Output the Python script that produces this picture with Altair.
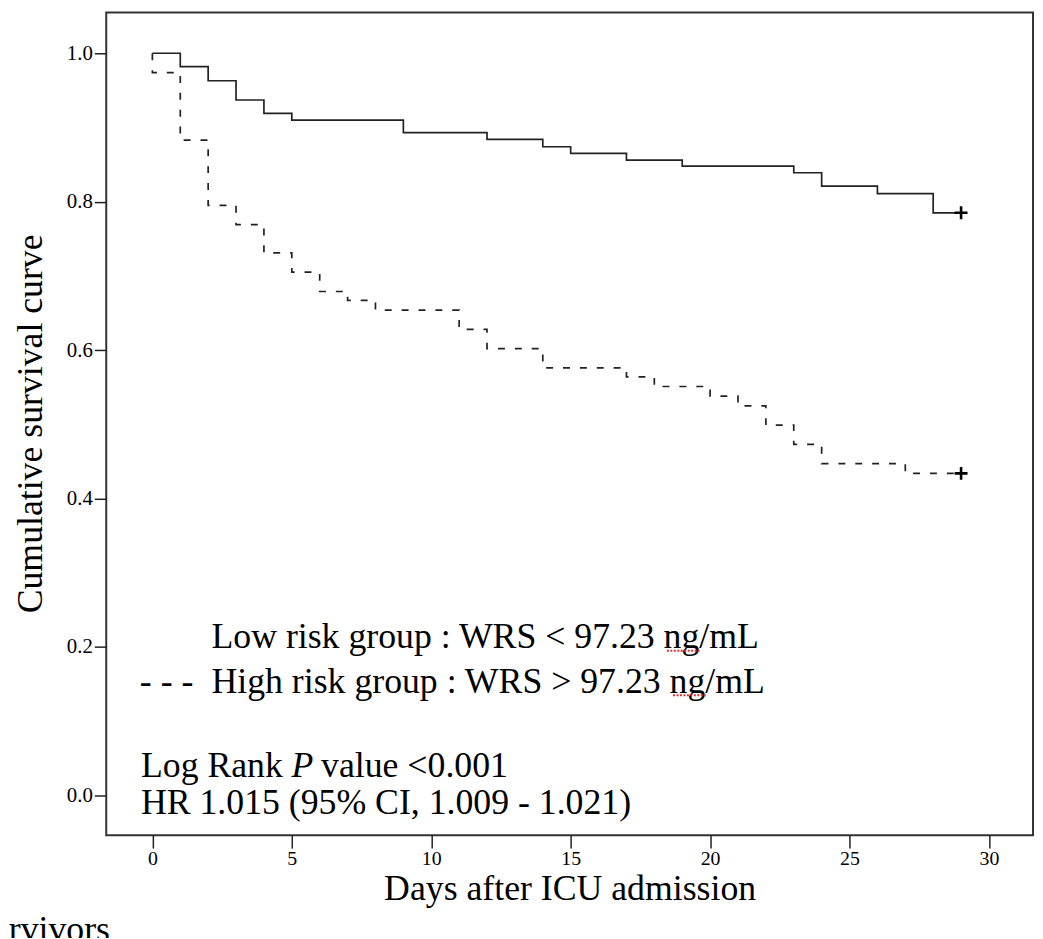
import altair as alt
import pandas as pd

# ---- data ----
low_days = [0, 1, 2, 3, 4, 5, 9, 12, 14, 15, 17, 19, 23, 24, 26, 28, 29]
low_surv = [1.0, 0.982, 0.963, 0.937, 0.919, 0.910, 0.893, 0.884, 0.874, 0.865,
            0.856, 0.848, 0.839, 0.821, 0.811, 0.785, 0.785]

high_days = [0, 0, 1, 2, 3, 4, 5, 6, 7, 8, 11, 12, 14, 17, 18, 20, 21, 22, 23, 24, 27, 29]
high_surv = [1.0, 0.974, 0.883, 0.795, 0.769, 0.731, 0.705, 0.679, 0.667, 0.654, 0.628,
             0.602, 0.576, 0.564, 0.551, 0.538, 0.525, 0.499, 0.473, 0.447, 0.434, 0.434]

censor_days = [29, 29]
censor_surv = [0.785, 0.434]

x_ticks = [0, 5, 10, 15, 20, 25, 30]
y_ticks = [0.0, 0.2, 0.4, 0.6, 0.8, 1.0]

# annotation texts (text, day, survival value)
ann_text = ["Low risk group : WRS < 97.23 ng/mL",
            "- - -",
            "High risk group : WRS > 97.23 ng/mL",
            "Log Rank",
            "value <0.001",
            "HR 1.015 (95% CI, 1.009 - 1.021)"]
ann_day = [2.12, -0.45, 2.12, -0.41, 6.05, -0.41]
ann_val = [0.214, 0.153, 0.153, 0.040, 0.040, -0.010]

italic_text = ["P"]
italic_day = [4.99]
italic_val = [0.040]

cut_text = ["rvivors"]
cut_day = [-5.15]
cut_val = [-0.1965]

# spell-check underline spans under "ng" (day start, day end, value)
sq_day = [18.45, 18.67]
sq_day2 = [19.62, 19.84]
sq_val = [0.195, 0.135]

FONT = "Liberation Serif"
XDOM = [-1.655, 31.58]
YDOM = [-0.0535, 1.0548]

low_df = pd.DataFrame({"day": low_days, "surv": low_surv, "ord": range(len(low_days))})
high_df = pd.DataFrame({"day": high_days, "surv": high_surv, "ord": range(len(high_days))})
cens_df = pd.DataFrame({"day": censor_days, "surv": censor_surv})
ann_df = pd.DataFrame({"t": ann_text, "day": ann_day, "surv": ann_val})
ital_df = pd.DataFrame({"t": italic_text, "day": italic_day, "surv": italic_val})
cut_df = pd.DataFrame({"t": cut_text, "day": cut_day, "surv": cut_val})
sq_df = pd.DataFrame({"d1": sq_day, "d2": sq_day2, "surv": sq_val})

xscale = alt.Scale(domain=XDOM, nice=False, zero=False)
yscale = alt.Scale(domain=YDOM, nice=False, zero=False)

x_axis = alt.Axis(values=x_ticks, format="d", tickSize=13, tickColor="#222", tickWidth=1.5,
                  domain=False, grid=False, labelFont=FONT, labelFontSize=20,
                  labelColor="#000", labelPadding=1, title="Days after ICU admission",
                  titleFont=FONT, titleFontSize=36, titleFontWeight="normal",
                  titleColor="#000", titleY=65, titleBaseline="alphabetic")
y_axis = alt.Axis(values=y_ticks, format=".1f", tickSize=12, tickColor="#222", tickWidth=1.5,
                  domain=False, grid=False, labelFont=FONT, labelFontSize=21,
                  labelColor="#000", labelPadding=2, title="Cumulative survival curve",
                  titleFont=FONT, titleFontSize=36, titleFontWeight="normal",
                  titleColor="#000", titleX=-65, titleY=414, titleBaseline="alphabetic",
                  titleAngle=270)

low_line = alt.Chart(low_df).mark_line(interpolate="step-after", color="#222",
                                       strokeWidth=1.7).encode(
    x=alt.X("day:Q", scale=xscale, axis=x_axis),
    y=alt.Y("surv:Q", scale=yscale, axis=y_axis),
    order="ord:Q")

high_line = alt.Chart(high_df).mark_line(interpolate="step-after", color="#222",
                                         strokeWidth=1.7, strokeDash=[7, 10]).encode(
    x=alt.X("day:Q", scale=xscale),
    y=alt.Y("surv:Q", scale=yscale),
    order="ord:Q")

cens = alt.Chart(cens_df).mark_point(shape="M-1,0L1,0M0,-1L0,1", size=170, strokeWidth=2.6,
                                     color="#000", filled=False, opacity=1).encode(
    x=alt.X("day:Q", scale=xscale),
    y=alt.Y("surv:Q", scale=yscale))

ann = alt.Chart(ann_df).mark_text(align="left", baseline="middle", font=FONT, fontSize=36,
                                  color="#000").encode(
    x=alt.X("day:Q", scale=xscale),
    y=alt.Y("surv:Q", scale=yscale),
    text="t:N")

ital = alt.Chart(ital_df).mark_text(align="left", baseline="middle", font=FONT, fontSize=36,
                                    fontStyle="italic", color="#000").encode(
    x=alt.X("day:Q", scale=xscale),
    y=alt.Y("surv:Q", scale=yscale),
    text="t:N")

cut = alt.Chart(cut_df).mark_text(align="left", baseline="alphabetic", font=FONT, fontSize=36,
                                  color="#000").encode(
    x=alt.X("day:Q", scale=xscale),
    y=alt.Y("surv:Q", scale=yscale),
    text="t:N")

squig = alt.Chart(sq_df).mark_rule(color="#e03030", strokeWidth=2,
                                   strokeDash=[2, 1.5]).encode(
    x=alt.X("d1:Q", scale=xscale),
    x2="d2:Q",
    y=alt.Y("surv:Q", scale=yscale))

chart = alt.layer(low_line, high_line, cens, ann, ital, cut, squig).properties(
    width=934, height=829,
    padding={"left": 99, "top": 1, "right": 2, "bottom": 100},
    autosize=alt.AutoSizeParams(type="none"),
    background="white",
).configure_view(stroke="#333", strokeWidth=2)

chart.save("out.html", embed_options={"renderer": "svg", "actions": False})
